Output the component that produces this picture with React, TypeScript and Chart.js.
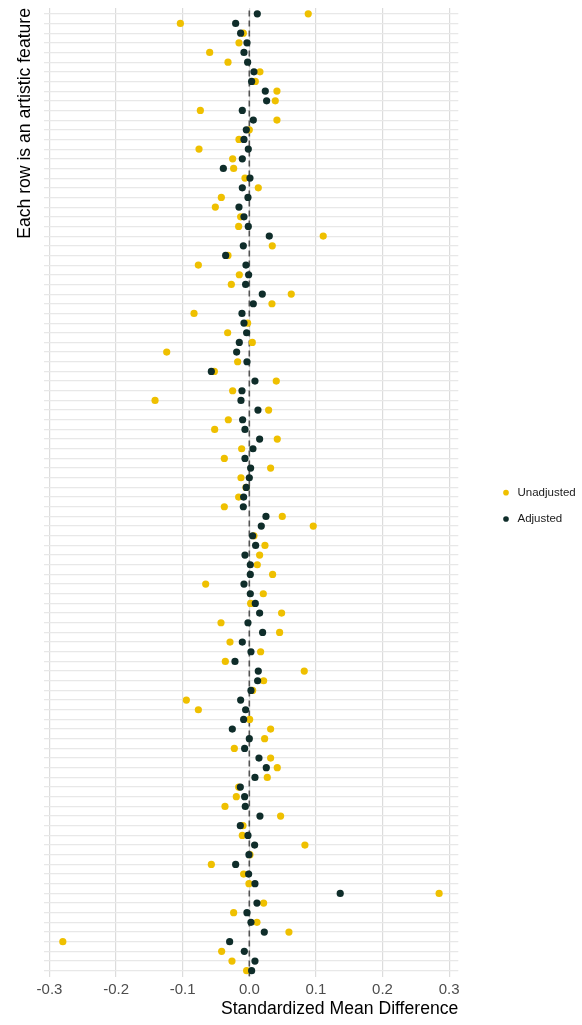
import React, { useEffect, useRef } from "react";
import { Chart, registerables } from "chart.js";

Chart.register(...registerables);

// Row number of each artistic feature, read top to bottom
const rows: number[] = Array.from({ length: 100 }, (_, i) => i + 1);

const unadjusted: number[] = [
  0.0885, -0.1035, -0.009, -0.0155, -0.0595, -0.032, 0.016, 0.009, 0.0415, 0.039,
  -0.0735, 0.0415, 0, -0.0155, -0.0755, -0.025, -0.0235, -0.0065, 0.0135, -0.042,
  -0.051, -0.013, -0.016, 0.111, 0.0345, -0.032,
  -0.0765, -0.015, -0.027, 0.063, 0.034, -0.083, -0.0025, -0.0325, 0.0045, -0.124,
  -0.0175, -0.0525, 0.0405, -0.025, -0.1415, 0.029, -0.0315, -0.052, 0.042, -0.0115,
  -0.0375, 0.032, -0.0125, -0.005, -0.016, -0.0375,
  0.0495, 0.096, 0.007, 0.0235, 0.0155, 0.012, 0.035, -0.0655, 0.021, 0.002,
  0.0485, -0.0425, 0.0455, -0.029, 0.017, -0.036, 0.0825, 0.0215, 0.005, -0.0945,
  -0.0765, 0.0005, 0.032, 0.023, -0.0225, 0.032,
  0.042, 0.027, -0.016, -0.0195, -0.0365, 0.047, -0.0095, -0.0105, 0.0835, 0.001,
  -0.057, -0.0085, -0.0005, 0.285, 0.0215, -0.0235, 0.0115, 0.0595, -0.28, -0.0415,
  -0.026, -0.004,
];

const adjusted: number[] = [
  0.012, -0.0205, -0.013, -0.0035, -0.008, -0.0025, 0.007, 0.0035, 0.024, 0.026,
  -0.0105, 0.006, -0.0045, -0.008, -0.0015, -0.0105, -0.039, 0.001, -0.0105, -0.002,
  -0.0155, -0.008, -0.0015, 0.03, -0.009, -0.0355,
  -0.005, -0.001, -0.0055, 0.0195, 0.006, -0.011, -0.008, -0.004, -0.015, -0.019,
  -0.0035, -0.057, 0.0085, -0.011, -0.0125, 0.013, -0.01, -0.0065, 0.0155, 0.0055,
  -0.0065, 0.002, 0, -0.0045, -0.0085, -0.009,
  0.025, 0.018, 0.005, 0.0095, -0.0065, 0.0015, 0.0015, -0.008, 0.0015, 0.009,
  0.0155, -0.002, 0.02, -0.0105, 0.0025, -0.0215, 0.0135, 0.0125, 0.0025, -0.013,
  -0.0055, -0.0085, -0.0255, 0, -0.007, 0.0145,
  0.0255, 0.0085, -0.0135, -0.007, -0.006, 0.016, -0.0135, -0.002, 0.008, -0.0005,
  -0.0205, -0.001, 0.0085, 0.1365, 0.0115, -0.0035, 0.0025, 0.0225, -0.0295, -0.0075,
  0.0085, 0.0035,
];

const xTicks: number[] = [-0.3, -0.2, -0.1, 0, 0.1, 0.2, 0.3];
const seriesNames: string[] = ["Unadjusted", "Adjusted"];
const xTitle = "Standardized Mean Difference";
const yTitle = "Each row is an artistic feature";

const YELLOW = "#EFC000";
const DARK = "#0F2D2A";
const FONT = "'Liberation Sans', Arial, Helvetica, sans-serif";

// row 1 sits at the top of the panel
const rowPos = (r: number) => rows.length + 1 - r;

export default function App() {
  const ref = useRef<HTMLCanvasElement | null>(null);

  useEffect(() => {
    if (!ref.current) return;
    const chart = new Chart(ref.current, {
      type: "scatter",
      data: {
        datasets: [
          {
            label: seriesNames[1],
            data: rows.map((r, i) => ({ x: adjusted[i], y: rowPos(r) })),
            backgroundColor: DARK,
            borderColor: DARK,
            pointRadius: 3.6,
            pointHoverRadius: 3.6,
            pointBorderWidth: 0,
            order: 1,
          },
          {
            label: seriesNames[0],
            data: rows.map((r, i) => ({ x: unadjusted[i], y: rowPos(r) })),
            backgroundColor: YELLOW,
            borderColor: YELLOW,
            pointRadius: 3.6,
            pointHoverRadius: 3.6,
            pointBorderWidth: 0,
            order: 2,
          },
          {
            type: "line",
            label: "zero",
            data: [
              { x: 0, y: 0.4 },
              { x: 0, y: rows.length + 0.6 },
            ],
            borderColor: "#555555",
            borderWidth: 1.6,
            borderDash: [6, 4],
            pointRadius: 0,
            showLine: true,
            fill: false,
            order: 3,
          } as any,
        ],
      },
      options: {
        responsive: false,
        animation: false,
        devicePixelRatio: 1,
        layout: { padding: { top: 8, right: 0, bottom: 0, left: 0 } },
        plugins: {
          tooltip: { enabled: false },
          legend: {
            position: "right",
            fullSize: false,
            maxWidth: 96.55,
            title: { display: true, text: "", padding: { top: 6.4, bottom: 6.4 }, font: { size: 12 } },
            labels: {
              filter: (item) => item.text !== "zero",
              sort: (a, b) => seriesNames.indexOf(a.text) - seriesNames.indexOf(b.text),
              usePointStyle: true,
              pointStyle: "circle",
              boxWidth: 11.5,
              boxHeight: 4,
              padding: 14.8,
              color: "#1a1a1a",
              font: { family: FONT, size: 11.5 },
            },
          },
        },
        scales: {
          x: {
            type: "linear",
            position: "bottom",
            min: -0.3087,
            max: 0.3138,
            afterBuildTicks: (s: any) => {
              s.ticks = xTicks.map((v) => ({ value: v }));
            },
            afterFit: (s: any) => {
              s.height = 48.5;
            },
            grid: { color: "#DCDCDC", lineWidth: 1.2, drawTicks: false },
            border: { display: false },
            ticks: {
              padding: 4,
              color: "#4D4D4D",
              font: { family: FONT, size: 15 },
              callback: (v: any) => Number(v).toFixed(1),
            },
            title: {
              display: true,
              text: xTitle,
              align: "end",
              color: "#000000",
              font: { family: FONT, size: 17.6 },
              padding: { top: 0, bottom: 5 },
            },
          },
          y: {
            type: "linear",
            position: "left",
            min: 0.4,
            max: rows.length + 0.6,
            afterBuildTicks: (s: any) => {
              s.ticks = rows.map((v) => ({ value: v }));
            },
            afterFit: (s: any) => {
              s.width = 43.7;
            },
            grid: { color: "#E8E8E8", lineWidth: 1.2, drawTicks: false },
            border: { display: false },
            ticks: { display: false },
            title: {
              display: true,
              text: yTitle,
              align: "end",
              color: "#000000",
              font: { family: FONT, size: 17.6 },
              padding: { top: 14.5, bottom: 0 },
            },
          },
          yGap: {
            type: "linear",
            position: "right",
            display: true,
            grid: { display: false, drawTicks: false },
            border: { display: false },
            ticks: { display: false },
            afterFit: (s: any) => {
              s.width = 27.15;
            },
          },
        },
      },
    });
    return () => chart.destroy();
  }, []);

  return (
    <div style={{ position: "absolute", left: 0, top: 0, width: 582, height: 1025 }}>
      <canvas ref={ref} width={582} height={1025} style={{ display: "block" }} />
    </div>
  );
}
